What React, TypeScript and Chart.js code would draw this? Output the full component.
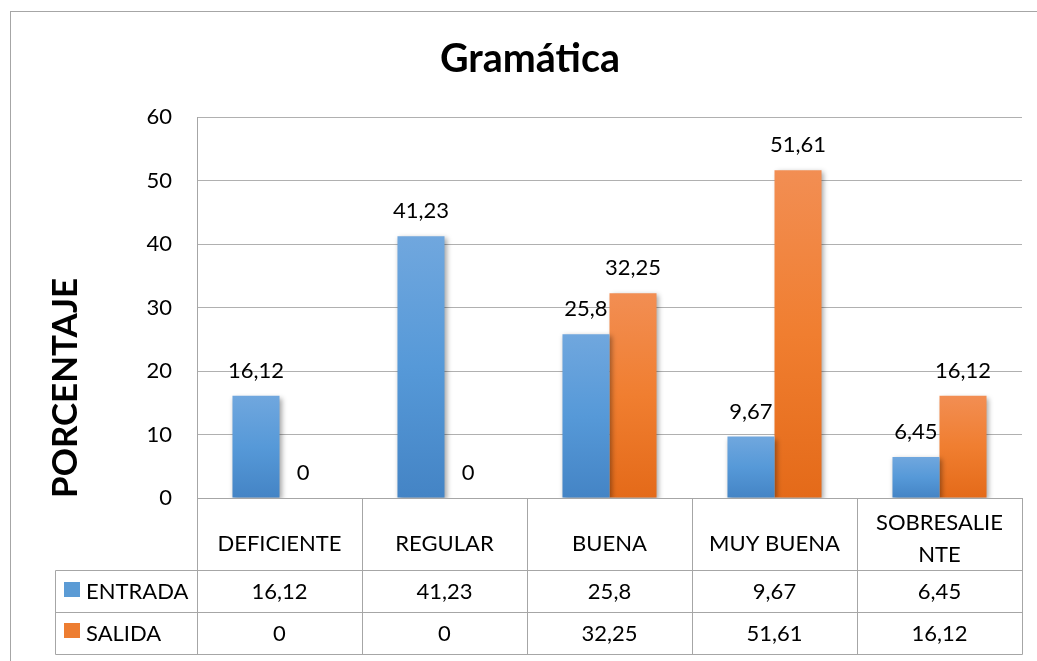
import React, { useEffect, useRef } from 'react';
import { Chart, registerables } from 'chart.js';

Chart.register(...registerables);

const TITLE = 'Gramática';
const Y_TITLE = 'PORCENTAJE';
const categories: (string | string[])[] = ['DEFICIENTE', 'REGULAR', 'BUENA', 'MUY BUENA', ['SOBRESALIE', 'NTE']];
const seriesNames = ['ENTRADA', 'SALIDA'];
const entrada = [16.12, 41.23, 25.8, 9.67, 6.45];
const salida = [0, 0, 32.25, 51.61, 16.12];
const yMin = 0;
const yMax = 60;
const yStep = 10;

const BLUE = ['#70a7de', '#5699d8', '#4484c5'];
const ORANGE = ['#f28e53', '#f07e30', '#e46a19'];
const FONT = 'Lato, "Open Sans", sans-serif';
const LINE = '#a6a6a6';

const fmt = (v: number) => String(v).replace('.', ',');

const gradientFor = (stops: string[]) => (ctx: any) => {
  const chart = ctx.chart;
  const { chartArea, scales } = chart;
  if (!chartArea || ctx.type !== 'data' || !scales || !scales.y) return stops[1];
  const v = ctx.raw as number;
  const yTop = scales.y.getPixelForValue(v);
  const yBase = scales.y.getPixelForValue(0);
  if (yBase - yTop < 1) return stops[2];
  const g = chart.ctx.createLinearGradient(0, yTop, 0, yBase);
  g.addColorStop(0, stops[0]);
  g.addColorStop(0.5, stops[1]);
  g.addColorStop(1, stops[2]);
  return g;
};

const fitFont = (ctx: CanvasRenderingContext2D, text: string, weight: string, targetWidth: number) => {
  ctx.font = `${weight} 30px ${FONT}`;
  const w = ctx.measureText(text).width;
  const size = (30 * targetWidth) / w;
  return `${weight} ${size.toFixed(2)}px ${FONT}`;
};

const decorPlugin = {
  id: 'decor',
  beforeDraw(chart: any) {
    const ctx = chart.ctx as CanvasRenderingContext2D;
    ctx.save();
    ctx.strokeStyle = LINE;
    ctx.lineWidth = 1;
    ctx.strokeRect(10.5, 11.5, 1200, 1200);
    // title
    ctx.fillStyle = '#000';
    ctx.font = fitFont(ctx, TITLE, 'bold', 180);
    ctx.textAlign = 'center';
    ctx.textBaseline = 'alphabetic';
    ctx.fillText(TITLE, 530, 72);
    // y title
    ctx.translate(77, 388);
    ctx.rotate(-Math.PI / 2);
    ctx.font = fitFont(ctx, Y_TITLE, 'bold', 220);
    ctx.fillText(Y_TITLE, 0, 0);
    ctx.restore();
  },
  beforeDatasetsDraw(chart: any) {
    const ctx = chart.ctx as CanvasRenderingContext2D;
    ctx.save();
    ctx.shadowColor = 'rgba(0,0,0,0.35)';
    ctx.shadowBlur = 5;
    ctx.shadowOffsetX = 2;
    ctx.shadowOffsetY = 2;
  },
  afterDatasetsDraw(chart: any) {
    const ctx = chart.ctx as CanvasRenderingContext2D;
    ctx.restore();
    ctx.save();
    ctx.fillStyle = '#000';
    ctx.font = `22px ${FONT}`;
    ctx.textAlign = 'center';
    ctx.textBaseline = 'alphabetic';
    chart.data.datasets.forEach((ds: any, di: number) => {
      const meta = chart.getDatasetMeta(di);
      meta.data.forEach((bar: any, i: number) => {
        const v = ds.data[i] as number;
        ctx.fillText(fmt(v), bar.x, bar.y - 18);
      });
    });
    ctx.restore();
  },
  afterDraw(chart: any) {
    const ctx = chart.ctx as CanvasRenderingContext2D;
    const xs = chart.scales.x;
    const n = categories.length;
    const left = xs.left;
    const right = xs.right;
    const cw = (right - left) / n;
    const top = chart.chartArea.bottom;
    const r1 = 570.5;
    const r2 = 612.5;
    const r3 = 654.5;
    const tLeft = 55.5;
    ctx.save();
    ctx.strokeStyle = LINE;
    ctx.lineWidth = 1;
    ctx.beginPath();
    for (let i = 0; i <= n; i++) {
      const x = Math.round(left + i * cw) + 0.5;
      ctx.moveTo(x, top);
      ctx.lineTo(x, r3);
    }
    ctx.moveTo(tLeft, r1);
    ctx.lineTo(tLeft, r3);
    [r1, r2, r3].forEach((y) => {
      ctx.moveTo(tLeft, y);
      ctx.lineTo(Math.round(right) + 0.5, y);
    });
    ctx.stroke();

    ctx.fillStyle = '#000';
    ctx.font = `22px ${FONT}`;
    ctx.textAlign = 'center';
    ctx.textBaseline = 'alphabetic';
    categories.forEach((c, i) => {
      const cx = left + (i + 0.5) * cw;
      if (Array.isArray(c)) {
        c.forEach((line, li) => ctx.fillText(line, cx, 530 + li * 32));
      } else {
        ctx.fillText(c, cx, 551);
      }
      ctx.fillText(fmt(entrada[i]), cx, 599);
      ctx.fillText(fmt(salida[i]), cx, 641);
    });
    // legend keys
    ctx.textAlign = 'left';
    const rows = [
      { name: seriesNames[0], color: '#5b9bd5', y: 599, sy: 582 },
      { name: seriesNames[1], color: '#ed7d31', y: 641, sy: 623 },
    ];
    rows.forEach((r) => {
      ctx.fillStyle = r.color;
      ctx.fillRect(64, r.sy, 16, 15);
      ctx.fillStyle = '#000';
      ctx.fillText(r.name, 86, r.y);
    });
    ctx.restore();
  },
};

export default function App() {
  const ref = useRef<HTMLCanvasElement | null>(null);
  useEffect(() => {
    if (!ref.current) return;
    const chart = new Chart(ref.current, {
      type: 'bar',
      data: {
        labels: categories as any,
        datasets: [
          { label: seriesNames[0], data: entrada, backgroundColor: gradientFor(BLUE) as any, borderWidth: 0 },
          { label: seriesNames[1], data: salida, backgroundColor: gradientFor(ORANGE) as any, borderWidth: 0 },
        ],
      },
      options: {
        responsive: false,
        maintainAspectRatio: false,
        animation: false,
        layout: { padding: { top: 117, right: 15, bottom: 6, left: 0 } },
        datasets: { bar: { categoryPercentage: 0.57, barPercentage: 1 } },
        plugins: {
          legend: { display: false },
          title: { display: false },
          tooltip: { enabled: false },
        },
        scales: {
          x: {
            ticks: { display: false },
            grid: { display: false },
            border: { display: true, color: LINE },
            afterFit: (s: any) => {
              s.height = 157;
            },
          },
          y: {
            min: yMin,
            max: yMax,
            ticks: { stepSize: yStep, padding: 25, color: '#000', font: { family: FONT, size: 22 } },
            grid: { color: '#b0b0b0', drawTicks: false },
            border: { display: true, color: LINE },
            afterFit: (s: any) => {
              s.width = 197;
            },
          },
        },
      },
      plugins: [decorPlugin],
    });
    return () => chart.destroy();
  }, []);
  return (
    <canvas
      ref={ref}
      width={1037}
      height={661}
      style={{ position: 'fixed', left: 0, top: 0, width: 1037, height: 661, background: '#fff' }}
    />
  );
}
